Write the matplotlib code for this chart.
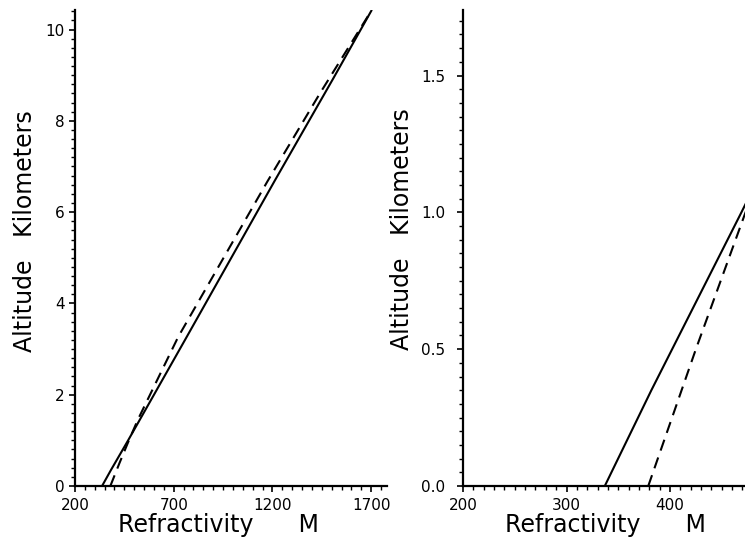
import numpy as np
import matplotlib.pyplot as plt
from matplotlib.ticker import MultipleLocator

# Refractivity profiles (M units) versus altitude (km)
solid_m = [337, 382, 469, 600, 757, 1213, 1508, 1703]
solid_km = [0, 0.35, 1.0, 2.0, 3.2, 6.7, 8.93, 10.43]

dashed_m = [379, 425, 472, 518, 723, 1174, 1440, 1703]
dashed_km = [0, 0.5, 0.99, 1.45, 3.27, 6.67, 8.6, 10.43]

# axis set-up for the two panels: full column and lowest kilometre
left_xticks = [200, 700, 1200, 1700]
left_yticks = [0, 2, 4, 6, 8, 10]
right_xticks = [200, 300, 400]
right_yticks = [0.0, 0.5, 1.0, 1.5]

fig = plt.figure(figsize=(7.45, 5.45), dpi=100)

W, H = 745, 545
ax1 = fig.add_axes([75 / W, (H - 486) / H, 312 / W, 475.6 / H])
ax2 = fig.add_axes([463 / W, (H - 486) / H, 310.5 / W, 475.6 / H])


def style(ax, xlim, ylim, xticks, yticks, xminor, yminor, ylabels, ypad):
    for m, km, ls in [(solid_m, solid_km, "-"), (dashed_m, dashed_km, (0, (5.5, 3.5)))]:
        ax.plot(m, km, color="black", lw=1.5, linestyle=ls, solid_capstyle="butt")
    ax.set_xlim(*xlim)
    ax.set_ylim(*ylim)
    ax.spines["top"].set_visible(False)
    ax.spines["right"].set_visible(False)
    ax.spines["left"].set_linewidth(1.6)
    ax.spines["bottom"].set_linewidth(1.6)
    ax.set_xticks(xticks)
    ax.set_yticks(yticks)
    ax.set_yticklabels(ylabels)
    ax.xaxis.set_minor_locator(MultipleLocator(xminor))
    ax.yaxis.set_minor_locator(MultipleLocator(yminor))
    ax.tick_params(which="major", direction="out", length=4, width=1.2,
                   labelsize=11)
    ax.tick_params(which="minor", direction="out", length=3, width=1.0)
    ax.tick_params(axis="x", which="major", pad=5)
    ax.tick_params(axis="y", which="major", pad=ypad)
    ax.text(0.46, -0.097, "Refractivity      M", transform=ax.transAxes,
            ha="center", va="baseline", fontsize=17)


style(ax1, (200, 1780), (0, 10.42), left_xticks, left_yticks, 50, 0.2,
      [str(v) for v in left_yticks], 3.5)
style(ax2, (200, 500), (0, 1.738), right_xticks, right_yticks, 10, 0.05,
      ["%.1f" % v for v in right_yticks], 9)

ax1.text(-0.16, 0.536, "Altitude   Kilometers", transform=ax1.transAxes,
         rotation=90, ha="center", va="center", fontsize=17)
ax2.text(-0.197, 0.54, "Altitude   Kilometers", transform=ax2.transAxes,
         rotation=90, ha="center", va="center", fontsize=17)

fig.savefig("out.png", dpi=100)
